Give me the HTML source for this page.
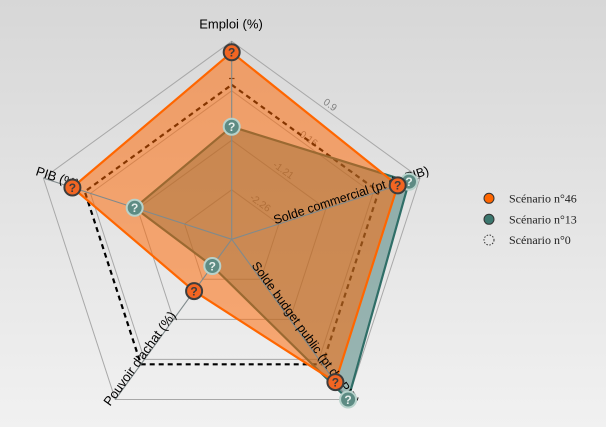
<!DOCTYPE html>
<html><head><meta charset="utf-8"><style>
html,body{margin:0;padding:0;width:606px;height:427px;overflow:hidden}
svg{display:block}
</style></head><body>
<svg width="606" height="427" viewBox="0 0 606 427" xmlns="http://www.w3.org/2000/svg">
<defs>
<linearGradient id="bg" x1="0" y1="0" x2="0" y2="1">
<stop offset="0" stop-color="#d7d7d7"/><stop offset="1" stop-color="#f1f1f1"/>
</linearGradient>
</defs>
<rect width="606" height="427" fill="url(#bg)"/>

<!-- grid rings -->
<g fill="none" stroke="#a8a8a8" stroke-width="1">
<polygon points="231.7,41.3 420.0,178.1 348.1,399.5 115.3,399.5 43.4,178.1"/>
<polygon points="231.7,90.8 372.9,193.4 319.0,359.4 144.4,359.4 90.5,193.4"/>
<polygon points="231.7,140.3 325.9,208.7 289.9,319.4 173.5,319.4 137.5,208.7"/>
<polygon points="231.7,189.8 278.8,224.0 260.8,279.3 202.6,279.3 184.6,224.0"/>
</g>
<!-- ring labels -->
<g font-family="Liberation Sans, sans-serif" font-size="10" fill="#808080" text-anchor="middle">
<text x="330.3" y="104.7" dy="0.35em" transform="rotate(36 330.3 104.7)">0.9</text>
<text x="307.5" y="137.5" dy="0.35em" transform="rotate(36 307.5 137.5)">-0.16</text>
<text x="283.6" y="170" dy="0.35em" transform="rotate(36 283.6 170)">-1.21</text>
<text x="260.5" y="202.8" dy="0.35em" transform="rotate(36 260.5 202.8)">-2.26</text>
</g>

<!-- scenario 0 dashed -->
<polygon points="231.7,84.8 378.6,191.6 322.5,364.3 140.9,364.3 84.8,191.6" fill="none" stroke="#000" stroke-width="2.2" stroke-dasharray="5,4"/>
<line x1="229" y1="78.5" x2="234.5" y2="78.5" stroke="#111" stroke-width="1.2"/>

<!-- scenario 13 teal -->
<polygon points="231.7,126.7 409.0,181.7 348.1,399.5 212.3,266.0 134.7,207.8" fill="rgba(47,111,104,0.45)" stroke="#2f6e67" stroke-width="2.2" stroke-linejoin="round"/>

<!-- scenario 46 orange -->
<polygon points="231.7,52.3 397.7,185.4 335.4,382.1 194.1,291.1 72.4,187.5" fill="rgba(255,102,0,0.52)" stroke="#ff6600" stroke-width="2.2" stroke-linejoin="round"/>

<!-- spokes -->
<g stroke="#808a8c" stroke-width="1.1">
<line x1="231.7" y1="239.3" x2="231.7" y2="41.3"/>
<line x1="231.7" y1="239.3" x2="420.0" y2="178.1"/>
<line x1="231.7" y1="239.3" x2="348.1" y2="399.5"/>
<line x1="231.7" y1="239.3" x2="115.3" y2="399.5"/>
<line x1="231.7" y1="239.3" x2="43.4" y2="178.1"/>
</g>

<!-- axis labels -->
<g font-family="Liberation Sans, sans-serif" font-size="13" fill="#000">
<text x="231" y="28.5" text-anchor="middle">Emploi (%)</text>
<text x="34.8" y="175.3" dy="-0.5" transform="rotate(18 34.8 175.3)">PIB (%)</text>
<text x="430" y="175" dy="-1" font-size="12.5" text-anchor="end" transform="rotate(-18 430 175)">Solde commercial (pt de PIB)</text>
<text x="353" y="405.5" dy="0" font-size="12.5" text-anchor="end" transform="rotate(54 353 405.5)">Solde budget public (pt de PIB)</text>
<text x="110" y="406.8" dy="0" transform="rotate(-54 110 406.8)">Pouvoir d'achat (%)</text>
</g>

<!-- teal markers -->
<g font-family="Liberation Sans, sans-serif" font-size="12" font-weight="bold" text-anchor="middle">
<g><circle cx="231.7" cy="126.7" r="8" fill="#5d8b83" stroke="#b7d2cb" stroke-width="2"/><text x="231.7" y="131" fill="#e6efec">?</text></g>
<g><circle cx="409.0" cy="181.7" r="8" fill="#5d8b83" stroke="#b7d2cb" stroke-width="2"/><text x="409.0" y="186" fill="#e6efec">?</text></g>
<g><circle cx="348.1" cy="399.5" r="8" fill="#5d8b83" stroke="#b7d2cb" stroke-width="2"/><text x="348.1" y="403.8" fill="#e6efec">?</text></g>
<g><circle cx="212.3" cy="266.0" r="8" fill="#5d8b83" stroke="#b7d2cb" stroke-width="2"/><text x="212.3" y="270.3" fill="#e6efec">?</text></g>
<g><circle cx="134.7" cy="207.8" r="8" fill="#5d8b83" stroke="#b7d2cb" stroke-width="2"/><text x="134.7" y="212.1" fill="#e6efec">?</text></g>
</g>
<!-- orange markers -->
<g font-family="Liberation Sans, sans-serif" font-size="12" font-weight="bold" text-anchor="middle">
<g><circle cx="231.7" cy="52.3" r="8" fill="#f26522" stroke="#3d3d3d" stroke-width="2"/><text x="231.7" y="56.6" fill="#3d3d3d">?</text></g>
<g><circle cx="397.7" cy="185.4" r="8" fill="#f26522" stroke="#3d3d3d" stroke-width="2"/><text x="397.7" y="189.7" fill="#3d3d3d">?</text></g>
<g><circle cx="335.4" cy="382.1" r="8" fill="#f26522" stroke="#3d3d3d" stroke-width="2"/><text x="335.4" y="386.4" fill="#3d3d3d">?</text></g>
<g><circle cx="194.1" cy="291.1" r="8" fill="#f26522" stroke="#3d3d3d" stroke-width="2"/><text x="194.1" y="295.4" fill="#3d3d3d">?</text></g>
<g><circle cx="72.4" cy="187.5" r="8" fill="#f26522" stroke="#3d3d3d" stroke-width="2"/><text x="72.4" y="191.8" fill="#3d3d3d">?</text></g>
</g>

<!-- legend -->
<circle cx="489" cy="198.3" r="5" fill="#ff6600" stroke="#333" stroke-width="1"/>
<circle cx="489" cy="219.3" r="5" fill="#3b776e" stroke="#333" stroke-width="1"/>
<circle cx="489" cy="240" r="5" fill="none" stroke="#333" stroke-width="1" stroke-dasharray="1.5,1.5"/>
<g font-family="Liberation Serif, serif" font-size="12" fill="#222">
<text x="509" y="202.7">Scénario n°46</text>
<text x="509" y="223.3">Scénario n°13</text>
<text x="509" y="244">Scénario n°0</text>
</g>
</svg>
</body></html>
